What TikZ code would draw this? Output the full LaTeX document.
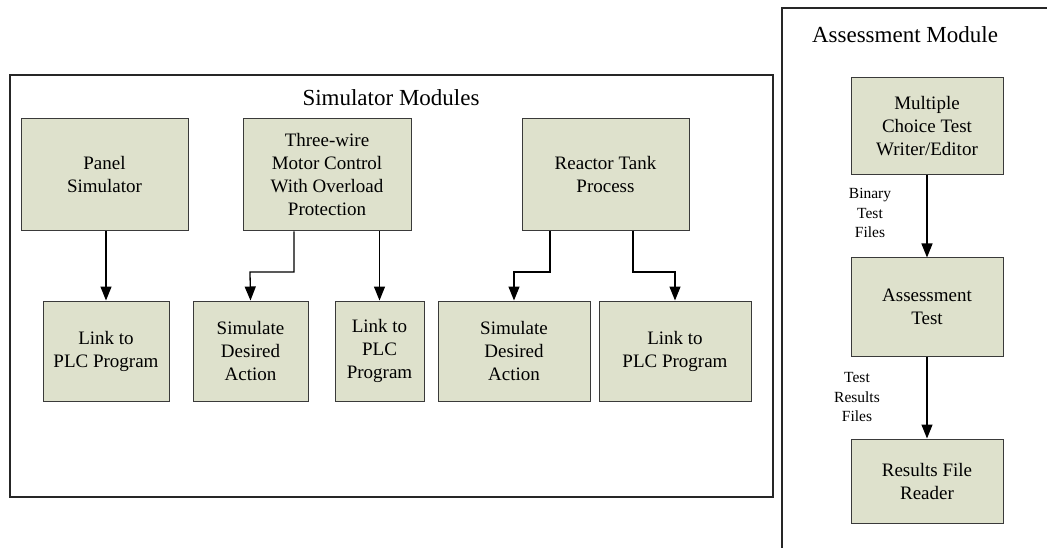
\documentclass[tikz,border=0pt]{standalone}
\usepackage{fontspec}
\setmainfont{Liberation Serif}
\usetikzlibrary{arrows.meta}
\definecolor{boxfill}{HTML}{DEE1CC}
\definecolor{boxline}{HTML}{3A3A3A}
\tikzset{
  modbox/.style={draw=boxline, line width=1pt, fill=boxfill, align=center, inner sep=0pt,
    font=\fontsize{19}{23}\selectfont},
  frame/.style={draw=black!85, line width=2pt},
  conn/.style={draw=black, line width=1.3pt, -{Triangle[length=14pt,width=11pt]}},
  flowlabel/.style={align=center, font=\fontsize{15.5}{19.5}\selectfont, inner sep=0pt},
  titletext/.style={font=\fontsize{23}{27}\selectfont, inner sep=0pt}
}
\begin{document}
\begin{tikzpicture}[x=1pt,y=-1pt]
\useasboundingbox[fill=white] (0,0) rectangle (1047,548);
\clip (0,0) rectangle (1047,548);
% frames
\draw[frame] (10,75) rectangle (773,497);
\draw[frame] (782,8) rectangle (1060,560);
\node[titletext] (simtitle) at (391,98) {Simulator Modules};
\node[titletext] (asstitle) at (905,35) {Assessment Module};
% top row
\node[modbox, minimum width=167pt, minimum height=112pt] (panel) at (104.5,175) {Panel\\Simulator};
\node[modbox, minimum width=168pt, minimum height=112pt] (motor) at (327,175) {Three-wire\\Motor Control\\With Overload\\Protection};
\node[modbox, minimum width=167pt, minimum height=112pt] (reactor) at (605.5,175) {Reactor Tank\\Process};
% bottom row
\node[modbox, minimum width=126pt, minimum height=100pt] (link1) at (106,351) {Link to\\PLC Program};
\node[modbox, minimum width=115pt, minimum height=100pt] (sim1) at (250.5,351) {Simulate\\Desired\\Action};
\node[modbox, minimum width=89pt, minimum height=100pt] (link2) at (379.5,351) {Link to\\PLC\\Program};
\node[modbox, minimum width=152pt, minimum height=100pt] (sim2) at (514,351) {Simulate\\Desired\\Action};
\node[modbox, minimum width=152pt, minimum height=100pt] (link3) at (675,351) {Link to\\PLC Program};
% assessment
\node[modbox, minimum width=152pt, minimum height=97pt] (mc) at (927,126.5) {Multiple\\Choice Test\\Writer/Editor};
\node[modbox, minimum width=152pt, minimum height=98pt] (at) at (927,307) {Assessment\\Test};
\node[modbox, minimum width=152pt, minimum height=84pt] (rf) at (927,481) {Results File\\Reader};
% connectors
\draw[conn] (panel.south -| link1.north) -- (link1.north);
\draw[conn] (motor.south -| 294,0) -- (294,272) -- (250,272) -- (sim1.north);
\draw[conn] (motor.south -| link2.north) -- (link2.north);
\draw[conn] (reactor.south -| 550,0) -- (550,272) -- (514,272) -- (sim2.north);
\draw[conn] (reactor.south -| 633,0) -- (633,272) -- (675,272) -- (link3.north);
\draw[conn] (mc.south) -- (at.north);
\draw[conn] (at.south) -- (rf.north);
% labels
\node[flowlabel] (lab1) at (870,213) {Binary\\Test\\Files};
\node[flowlabel] (lab2) at (857,397) {Test\\Results\\Files};
\end{tikzpicture}
\end{document}
